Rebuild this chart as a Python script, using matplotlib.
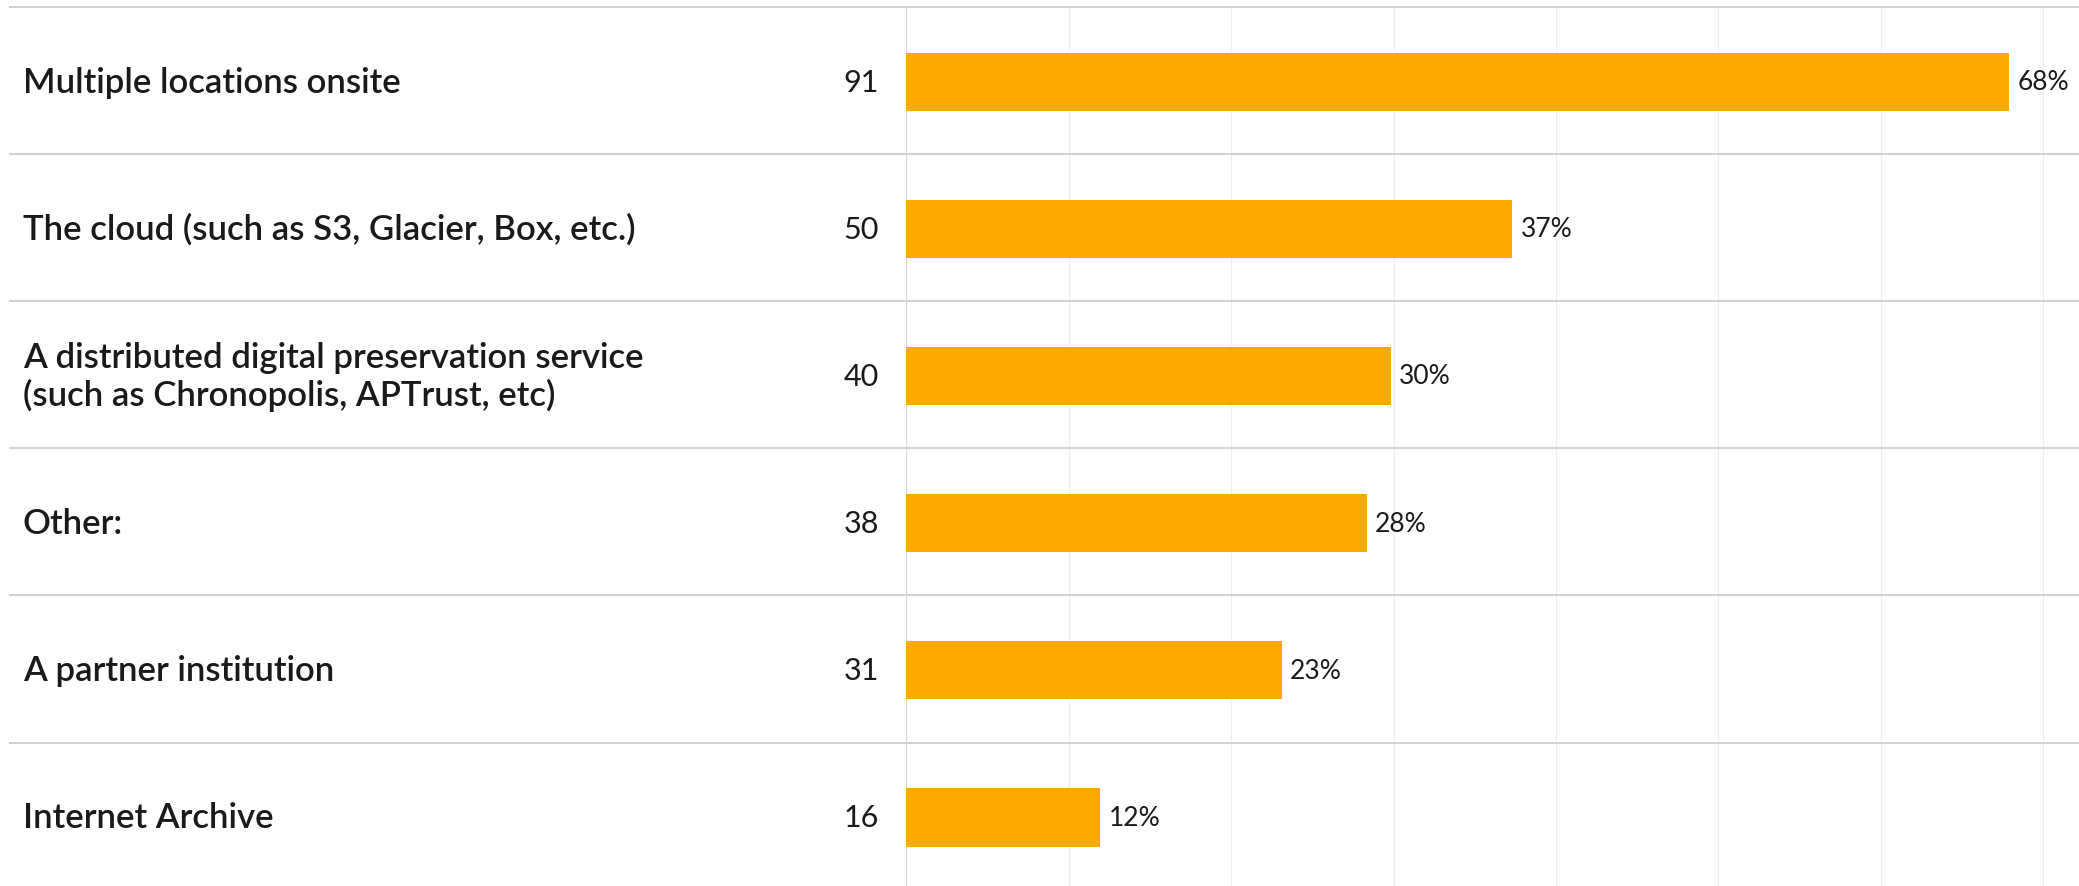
import matplotlib
matplotlib.use('Agg')
import matplotlib.pyplot as plt
from matplotlib.lines import Line2D
from matplotlib.transforms import blended_transform_factory

BAR = '#fdaa00'
FG = '#1a1a1a'
SEP = '#d2d2d2'
GRID = '#eeeeee'
AXIS = '#dadada'

categories = [
    'Multiple locations onsite',
    'The cloud (such as S3, Glacier, Box, etc.)',
    'A distributed digital preservation service\n(such as Chronopolis, APTrust, etc)',
    'Other:',
    'A partner institution',
    'Internet Archive',
]
counts = [91, 50, 40, 38, 31, 16]
percents = [68, 37, 30, 28, 23, 12]
respondents = 134
grid_ticks = [0, 10, 20, 30, 40, 50, 60, 70]

plt.rcParams['font.family'] = ['Lato', 'DejaVu Sans']

W, H, DPI = 2079, 886, 100
fig = plt.figure(figsize=(W / DPI, H / DPI), dpi=DPI)
x0 = 906.4 / W
ax = fig.add_axes([x0, 0, 1 - x0, 1])

row_h = 147.1
top = 7.0
ax.set_ylim((H - top) / row_h, -top / row_h)
ax.set_xlim(0, (W - 906.4) / 16.24)
for s in ax.spines.values():
    s.set_visible(False)
ax.set_xticks([])
ax.set_yticks([])

# vertical gridlines
for t in grid_ticks:
    ax.plot([t, t], [0, len(categories) + 1], color=AXIS if t == 0 else GRID,
            linewidth=0.8 if t else 1.0, zorder=0, clip_on=True)

shares = [c / respondents * 100 for c in counts]
ys = [i + 0.5 for i in range(len(categories))]
ax.barh([y + 0.01 for y in ys], shares, height=0.395, color=BAR, zorder=2)

# row separators spanning the label column too
tr = blended_transform_factory(fig.transFigure, ax.transData)
for i in range(len(categories)):
    fig.add_artist(Line2D([10 / W, 1], [i, i], transform=tr, color=SEP, linewidth=1.5, zorder=3))

for y, cat, n, p, s in zip(ys, categories, counts, percents, shares):
    yt = y + 0.015
    ax.text(23 / W, yt, cat, transform=tr, ha='left', va='center', fontsize=25,
            color=FG, fontweight='semibold', linespacing=1.15)
    ax.text(879 / W, yt, str(n), transform=tr, ha='right', va='center', fontsize=22,
            color=FG, fontweight='normal')
    ax.text(s + 0.5, yt, f'{p}%', ha='left', va='center', fontsize=19, color=FG)

fig.savefig('out.png', dpi=DPI)
